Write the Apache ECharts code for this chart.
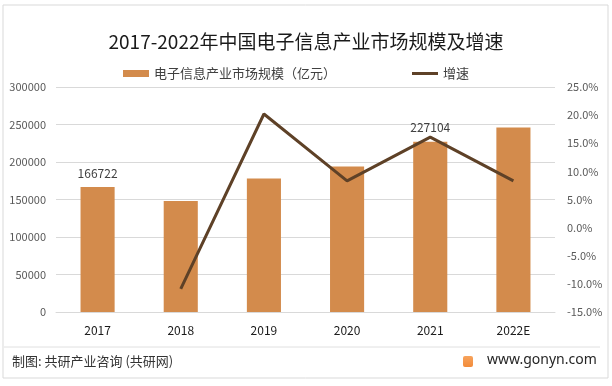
<!DOCTYPE html>
<html><head><meta charset="utf-8">
<script src="https://cdn.jsdelivr.net/npm/echarts@6/dist/echarts.min.js"></script>
<style>html,body{margin:0;padding:0;background:#fff}#c{width:612px;height:386px}</style>
</head><body><div id="c"></div>
<script>
const categories = ['2017','2018','2019','2020','2021','2022E'];
const marketSize = [166722, 148000, 178000, 194000, 227104, 246000];
const growth = [null, -10.9, 20.2, 8.3, 16.1, 8.3];
const labeledYears = ['2017','2021'];
const leftTicks = {min:0, max:300000, interval:50000};
const rightTicks = {min:-15, max:25, interval:5};

const chart = echarts.init(document.getElementById('c'));
const font = '"Microsoft YaHei","Noto Sans CJK SC","Noto Sans",sans-serif';
chart.setOption({
  animation:false,
  backgroundColor:'#fff',
  title:{text:'2017-2022年中国电子信息产业市场规模及增速',left:'center',top:27,
    textStyle:{fontSize:19,fontWeight:'normal',color:'#1a1a1a',fontFamily:font}},
  legend:{top:62,left:118,itemGap:76,itemWidth:26,itemHeight:7,
    textStyle:{fontSize:13,color:'#404040',fontFamily:font},
    data:[{name:'电子信息产业市场规模（亿元）',icon:'rect'},
          {name:'增速',icon:'path://M0,0 M26,7 M0,2 L26,2 L26,5 L0,5 Z',itemStyle:{color:'#5e4127'}}]},
  grid:{left:56,right:57,top:87,bottom:74},
  xAxis:{type:'category',data:categories,
    axisLine:{lineStyle:{color:'#d9d9d9'}},axisTick:{show:false},
    axisLabel:{color:'#1a1a1a',fontSize:12,margin:12,fontFamily:font}},
  yAxis:[
    {type:'value',min:leftTicks.min,max:leftTicks.max,interval:leftTicks.interval,
     axisLabel:{color:'#595959',fontSize:11,margin:10,fontFamily:font,formatter:v=>String(v)},
     splitLine:{lineStyle:{color:'#d9d9d9'}},axisLine:{show:false},axisTick:{show:false}},
    {type:'value',min:rightTicks.min,max:rightTicks.max,interval:rightTicks.interval,
     axisLabel:{color:'#595959',fontSize:11,margin:12,fontFamily:font,formatter:v=>v.toFixed(1)+'%'},
     splitLine:{show:false},axisLine:{show:false},axisTick:{show:false}}
  ],
  series:[
    {name:'电子信息产业市场规模（亿元）',type:'bar',barWidth:'41%',
     itemStyle:{color:'#d38b4c'},
     data:marketSize.map((v,i)=>({value:v,label:{show:labeledYears.includes(categories[i])}})),
     label:{position:'top',color:'#404040',fontSize:12,distance:8,fontFamily:font}},
    {name:'增速',type:'line',yAxisIndex:1,data:growth,symbol:'none',
     lineStyle:{color:'#5e4127',width:3},itemStyle:{color:'#5e4127'}}
  ],
  graphic:[
    {type:'rect',shape:{x:3,y:5,width:605,height:373},style:{fill:'none',stroke:'#d9d9d9',lineWidth:1},z:-1},
    {type:'line',shape:{x1:4,y1:347,x2:600,y2:347},style:{stroke:'#e0e0e0',lineWidth:1}},
    {type:'text',left:12,top:355,style:{text:'制图: 共研产业咨询 (共研网)',fontSize:13,fill:'#333',fontFamily:font}},
    {type:'rect',shape:{x:463,y:356,width:10,height:11,r:2},
     style:{fill:new echarts.graphic.LinearGradient(0,0,0,1,[{offset:0,color:'#f7a35c'},{offset:1,color:'#f28b3a'}])}},
    {type:'text',left:487,top:353,style:{text:'www.gonyn.com',fontSize:14,fill:'#262626',fontFamily:'"Noto Sans",sans-serif'}}
  ]
});
</script></body></html>
